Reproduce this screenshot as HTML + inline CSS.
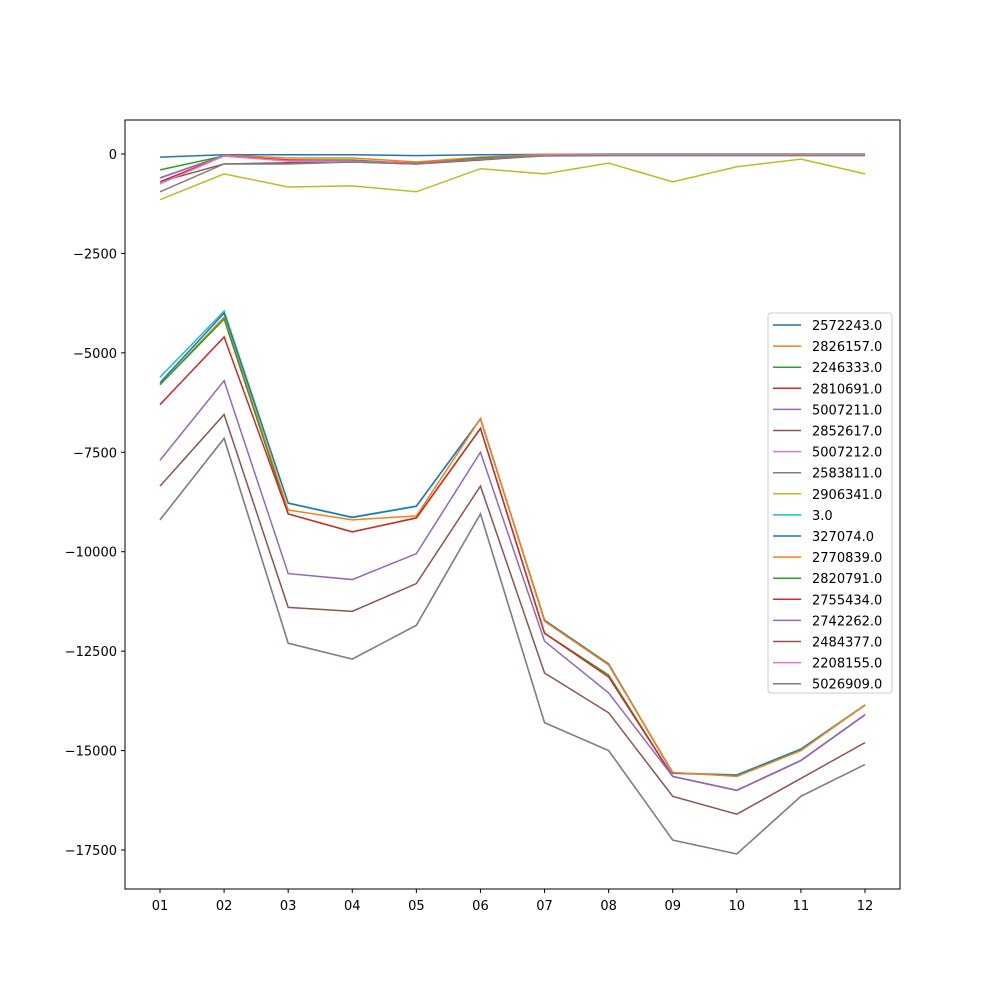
<!DOCTYPE html>
<html><head><meta charset="utf-8"><style>
body{margin:0;background:#fff;font-family:"Liberation Sans","DejaVu Sans",sans-serif;}
svg text{font-family:"DejaVu Sans","Liberation Sans",sans-serif;font-size:13px;fill:#000;}
</style></head><body>
<svg id="chart" width="1000" height="1000" xmlns="http://www.w3.org/2000/svg">
<rect width="1000" height="1000" fill="#fff"/>
<g id="lines"></g>
<rect x="125" y="120" width="775" height="769" fill="none" stroke="#000" stroke-width="1"/>
<g id="axes"></g>
<g id="legend"></g>
</svg>
<script>
const categories=["01","02","03","04","05","06","07","08","09","10","11","12"];
const seriesNames=["2572243.0","2826157.0","2246333.0","2810691.0","5007211.0","2852617.0","5007212.0","2583811.0","2906341.0","3.0","327074.0","2770839.0","2820791.0","2755434.0","2742262.0","2484377.0","2208155.0","5026909.0"];
const colors=["#1f77b4","#ff7f0e","#2ca02c","#d62728","#9467bd","#8c564b","#e377c2","#7f7f7f","#bcbd22","#17becf","#1f77b4","#ff7f0e","#2ca02c","#d62728","#9467bd","#8c564b","#e377c2","#7f7f7f"];
const s0=[-80,-20,-20,-20,-40,-20,-10,0,0,0,0,0];
const s1=[-600,-30,-100,-100,-200,-80,-10,-10,-10,-10,-10,-10];
const s2=[-400,-50,-150,-150,-250,-100,-30,-20,-20,-20,-20,-20];
const s3=[-700,-50,-150,-180,-230,-130,-30,-20,-20,-20,-20,-20];
const s4=[-600,-50,-170,-170,-240,-120,-30,-20,-20,-20,-20,-20];
const s5=[-700,-250,-220,-200,-250,-150,-40,-30,-30,-30,-30,-30];
const s6=[-750,-50,-180,-190,-240,-130,-30,-20,-20,-20,-20,-20];
const s7=[-950,-250,-250,-200,-250,-120,-50,-40,-40,-40,-40,-40];
const s8=[-1150,-500,-830,-800,-950,-370,-500,-230,-700,-320,-130,-500];
const s9=[-5610,-3950,-8775,-9130,-8850,-6660,-11720,-12820,-15560,-15610,-14960,-13850];
const s10=[-5750,-4000,-8780,-9140,-8860,-6660,-11730,-12830,-15570,-15620,-14970,-13860];
const s11=[-5800,-4100,-8950,-9200,-9100,-6650,-11750,-12850,-15550,-15650,-15000,-13850];
const s12=[-5800,-4150,-9050,-9500,-9150,-6900,-12050,-13100,-15650,-16000,-15250,-14100];
const s13=[-6300,-4600,-9050,-9500,-9150,-6900,-12050,-13150,-15650,-16000,-15250,-14100];
const s14=[-7700,-5700,-10550,-10700,-10050,-7500,-12250,-13550,-15650,-16000,-15250,-14100];
const s15=[-8350,-6550,-11400,-11500,-10800,-8350,-13050,-14050,-16150,-16600,-15700,-14800];
const s16=[-9200,-7150,-12300,-12700,-11850,-9050,-14300,-15000,-17250,-17600,-16150,-15350];
const s17=[-9200,-7150,-12300,-12700,-11850,-9050,-14300,-15000,-17250,-17600,-16150,-15350];
const series=[s0,s1,s2,s3,s4,s5,s6,s7,s8,s9,s10,s11,s12,s13,s14,s15,s16,s17];
const yTicks=[0,-2500,-5000,-7500,-10000,-12500,-15000,-17500];
const yTickLabels=["0","\u22122500","\u22125000","\u22127500","\u221210000","\u221212500","\u221215000","\u221217500"];

const NS="http://www.w3.org/2000/svg";
const xS=i=>160+i*(705/11);
const yS=v=>154-v*(696/17500);
function mk(t,a,p){const e=document.createElementNS(NS,t);for(const k in a)e.setAttribute(k,a[k]);p.appendChild(e);return e;}
const L=document.getElementById('lines'),A=document.getElementById('axes'),G=document.getElementById('legend');
series.forEach((s,k)=>{
  const p=mk('polyline',{points:s.map((v,i)=>xS(i)+','+yS(v)).join(' '),fill:'none',stroke:colors[k],'stroke-width':1.5},L);
  
  
});
categories.forEach((c,i)=>{
  const l=mk('line',{x1:xS(i),x2:xS(i),y1:889,y2:893,stroke:'#000'},A);
  
  
  const t=mk('text',{x:xS(i),y:910,'text-anchor':'middle'},A);t.textContent=c;
  
  
});
yTicks.forEach((v,i)=>{
  const l=mk('line',{x1:121,x2:125,y1:yS(v),y2:yS(v),stroke:'#000'},A);
  
  
  const t=mk('text',{x:117,y:yS(v)+5,'text-anchor':'end'},A);t.textContent=yTickLabels[i];
  
  
});
const box=mk('rect',{x:768,y:313,width:124,height:380,rx:3,fill:'#fff','fill-opacity':0.8,stroke:'#ccc'},G);


seriesNames.forEach((n,i)=>{
  const y=325+i*21.1;
  const l=mk('line',{x1:773,x2:801,y1:y,y2:y,stroke:colors[i],'stroke-width':1.5},G);
  
  
  const t=mk('text',{x:812,y:y+5},G);t.textContent=n;
  
  
});
</script>
</body></html>
